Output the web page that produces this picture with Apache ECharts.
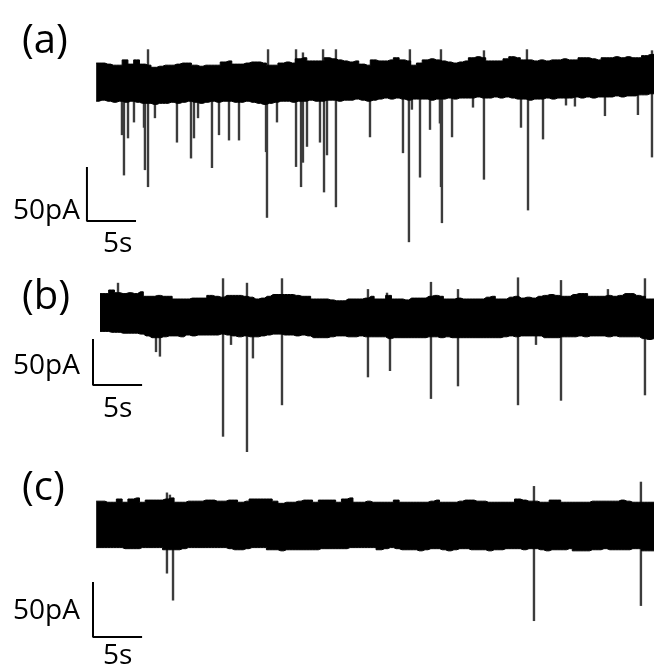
<!DOCTYPE html>
<html>
<head>
<meta charset="utf-8">
<script src="https://cdn.jsdelivr.net/npm/echarts@6/dist/echarts.min.js"></script>
<style>
  html, body { margin: 0; padding: 0; background: #fff; }
  #chart { width: 654px; height: 667px; }
</style>
</head>
<body>
<div id="chart"></div>
<script>
// Sampling interval of the noise envelopes (s)
const DT = 0.6;

// Recording (a): noise envelope (pA) and synaptic events
const traceA_start = 0;
const traceA_upper = [16,16,15,14,14,19,15,19,15,14, 12,13,14,14,15,16,16,14,13,14,
  14,14,17,18,15,15,16,17,17,16, 14,14,16,17,16,20,21,18,18,18,
  21,20,19,18,17,18,15,14,19,18, 18,19,21,19,18,14,16,19,20,19,
  18,17,16,17,18,21,22,21,18,18, 18,20,22,21,19,19,18,19,18,19,
  19,20,19,19,21,21,20,19,21,21, 22,21,22,21,21,23,24,25];
const traceA_lower = [-20,-19,-20,-21,-20,-21,-20,-21,-22,-22, -23,-22,-22,-21,-22,-21,-20,-21,-22,-21,
  -20,-21,-20,-20,-21,-21,-20,-21,-22,-23, -22,-21,-20,-20,-21,-20,-20,-19,-20,-20,
  -19,-19,-20,-19,-19,-18,-19,-20,-19,-18, -17,-18,-17,-18,-19,-18,-18,-18,-19,-18,
  -18,-17,-18,-17,-17,-17,-16,-17,-17,-16, -17,-16,-17,-18,-18,-19,-18,-18,-17,-18,
  -17,-17,-17,-16,-17,-16,-17,-16,-16,-16, -15,-16,-15,-15,-14,-14,-13,-13];
const spikeA_t = [2.68,2.89,3.31,3.93,4.97,5.07,5.39,6.11,8.40,9.86,10.17,10.59,12.04,12.77,13.81,14.85,
  17.66,17.76,18.80,20.78,21.30,21.50,21.92,23.27,23.69,24.00,24.93,28.47,31.90,32.52,32.83,33.67,
  34.71,35.74,35.85,35.95,37.00,39.18,40.32,44.17,44.90,46.46,48.85,49.78,52.90,56.33,57.79,
  5.39,17.87,20.78,21.50,23.59,24.93,32.62,35.85,40.32,44.79,57.79];
const spikeA_pA = [-52,-90,-55,-40,-45,-85,-101,-36,-59,-74,-55,-36,-83,-52,-57,-57,
  -68,-130,-40,-82,-101,-78,-63,-59,-106,-71,-120,-54,-69,-153,-28,-92,
  -47,-41,-101,-135,-54,-26,-94,-45,-123,-56,-24,-25,-34,-33,-73,
  29,29,29,26,29,29,29,29,28,29,28];

// Recording (b)
const traceB_start = 0.4;
const traceB_upper = [26,26,30,27,26,27,26,28,23,23, 24,23,23,20,20,20,21,21,21,24,
  23,22,24,24,24,23,22,20,21,23, 25,25,25,25,24,23,23,20,20,20,
  19,18,18,20,20,20,21,23,20,20, 24,20,20,19,21,21,21,23,24,23,
  20,20,21,20,20,20,20,22,23,20, 20,22,23,21,22,21,23,24,25,24,
  23,23,25,26,26,23,23,23,24,23, 24,26,26,24,23,20,20];
const traceB_lower = [-16,-16,-17,-17,-18,-18,-18,-19,-21,-23, -23,-22,-21,-21,-22,-20,-21,-20,-20,-20,
  -20,-19,-20,-21,-22,-21,-22,-22,-21,-20, -19,-19,-20,-20,-21,-20,-21,-23,-23,-23,
  -22,-21,-21,-22,-22,-21,-22,-22,-22,-22, -24,-23,-23,-23,-23,-23,-23,-22,-22,-23,
  -22,-23,-23,-23,-23,-23,-23,-23,-23,-23, -22,-21,-22,-21,-21,-21,-21,-23,-23,-23,
  -22,-22,-22,-21,-22,-21,-21,-21,-22,-21, -22,-22,-22,-22,-24,-25,-24];
const spikeB_t = [6.22,6.63,13.19,14.02,15.68,16.30,19.32,28.26,30.55,34.81,37.62,43.86,45.73,48.33,57.06,
  2.27,13.19,15.68,19.32,28.26,30.24,34.81,37.62,43.86,48.33,53.21,57.06];
const spikeB_pA = [-39,-44,-133,-31,-150,-46,-98,-67,-60,-91,-77,-98,-31,-93,-87,
  38,43,38,43,31,27,39,31,44,41,31,43];

// Recording (c)
const traceC_start = 0;
const traceC_upper = [23,23,22,22,25,22,25,26,22,24, 24,24,25,26,22,22,23,23,23,24,
  24,23,23,24,24,22,23,25,25,25, 25,23,21,22,22,23,24,24,22,24,
  24,24,22,25,26,22,22,23,22,22, 22,22,24,22,22,22,22,22,23,24,
  22,22,22,23,24,24,23,23,22,22, 22,22,22,25,24,23,23,22,22,24,
  24,22,22,22,22,22,23,23,23,23, 23,24,23,22,22,22,22,22];
const traceC_lower = [-20,-20,-20,-20,-20,-21,-21,-21,-20,-20, -20,-20,-22,-22,-22,-21,-20,-20,-20,-20,
  -20,-20,-20,-21,-22,-22,-21,-20,-20,-20, -22,-22,-23,-22,-22,-22,-22,-22,-22,-21,
  -21,-21,-21,-21,-20,-20,-20,-20,-20,-22, -21,-20,-21,-22,-22,-22,-23,-22,-21,-21,
  -22,-23,-22,-21,-21,-22,-22,-22,-23,-22, -22,-21,-21,-21,-22,-21,-21,-22,-23,-22,
  -22,-22,-21,-23,-23,-23,-22,-22,-21,-22, -22,-22,-22,-21,-21,-23,-23,-23];
const spikeC_t = [7.36,7.99,45.52,56.64, 7.36,7.67,45.52,56.64];
const spikeC_pA = [-44,-69,-88,-74, 31,29,37,41];

// Scale bar sizes
const SCALE_PA = 50;
const SCALE_S = 5;

const pairs = (t0, vals) => vals.map((v, i) => [+(t0 + i * DT).toFixed(2), v]);
const zip = (ts, vs) => ts.map((t, i) => [t, vs[i]]);

const panels = [
  { upper: traceA_upper, lower: traceA_lower, t0: traceA_start, st: spikeA_t, sv: spikeA_pA,
    top: 19.6, height: 240.6, yMin: -170, yMax: 57, bar: [-0.96, -83] },
  { upper: traceB_upper, lower: traceB_lower, t0: traceB_start, st: spikeB_t, sv: spikeB_pA,
    top: 272, height: 198, yMin: -170, yMax: 50, bar: [-0.33, -25.6] },
  { upper: traceC_upper, lower: traceC_lower, t0: traceC_start, st: spikeC_t, sv: spikeC_pA,
    top: 472, height: 183.6, yMin: -120, yMax: 50, bar: [-0.33, -52.8] }
];

const grid = [], xAxis = [], yAxis = [], series = [];
panels.forEach((p, k) => {
  grid.push({ left: 0, right: 0, top: p.top, height: p.height });
  xAxis.push({ type: 'value', gridIndex: k, min: -10, max: 58, show: false });
  yAxis.push({ type: 'value', gridIndex: k, min: p.yMin, max: p.yMax, show: false });
  // events: vertical deflections from baseline
  series.push({
    type: 'bar', xAxisIndex: k, yAxisIndex: k, barWidth: 2.4, z: 2,
    itemStyle: { color: '#3c3c3c' }, data: zip(p.st, p.sv)
  });
  // noise band: upper and lower envelopes filled toward the baseline
  [p.upper, p.lower].forEach(vals => {
    series.push({
      type: 'line', xAxisIndex: k, yAxisIndex: k, step: 'middle', symbol: 'none', z: 3,
      lineStyle: { color: '#000', width: 1 },
      areaStyle: { color: '#000', opacity: 1, origin: 0 },
      data: pairs(p.t0, vals)
    });
  });
  // scale bar
  const [bt, bv] = p.bar;
  series.push({
    type: 'line', xAxisIndex: k, yAxisIndex: k, symbol: 'none', z: 4,
    lineStyle: { color: '#000', width: 2, cap: 'square' },
    data: [[bt, bv], [bt, bv - SCALE_PA], [bt + SCALE_S, bv - SCALE_PA]]
  });
});

const FONT = '"Open Sans", "Noto Sans", sans-serif';
const txt = (s, x, y, size) => ({
  type: 'text', x: x, y: y, silent: true,
  style: { text: s, fill: '#000', fontSize: size, fontFamily: FONT, verticalAlign: 'middle', align: 'left' }
});

const chart = echarts.init(document.getElementById('chart'), null, { renderer: 'canvas' });
chart.setOption({
  animation: false,
  backgroundColor: '#fff',
  grid, xAxis, yAxis, series,
  graphic: [
    txt('(a)', 22, 42, 40), txt('(b)', 22, 298, 40), txt('(c)', 22, 489, 40),
    txt('50pA', 13, 211, 28), txt('5s', 103, 244, 28),
    txt('50pA', 13, 366, 28), txt('5s', 103, 409, 28),
    txt('50pA', 13, 611, 28), txt('5s', 103, 656, 28)
  ]
});
</script>
</body>
</html>
